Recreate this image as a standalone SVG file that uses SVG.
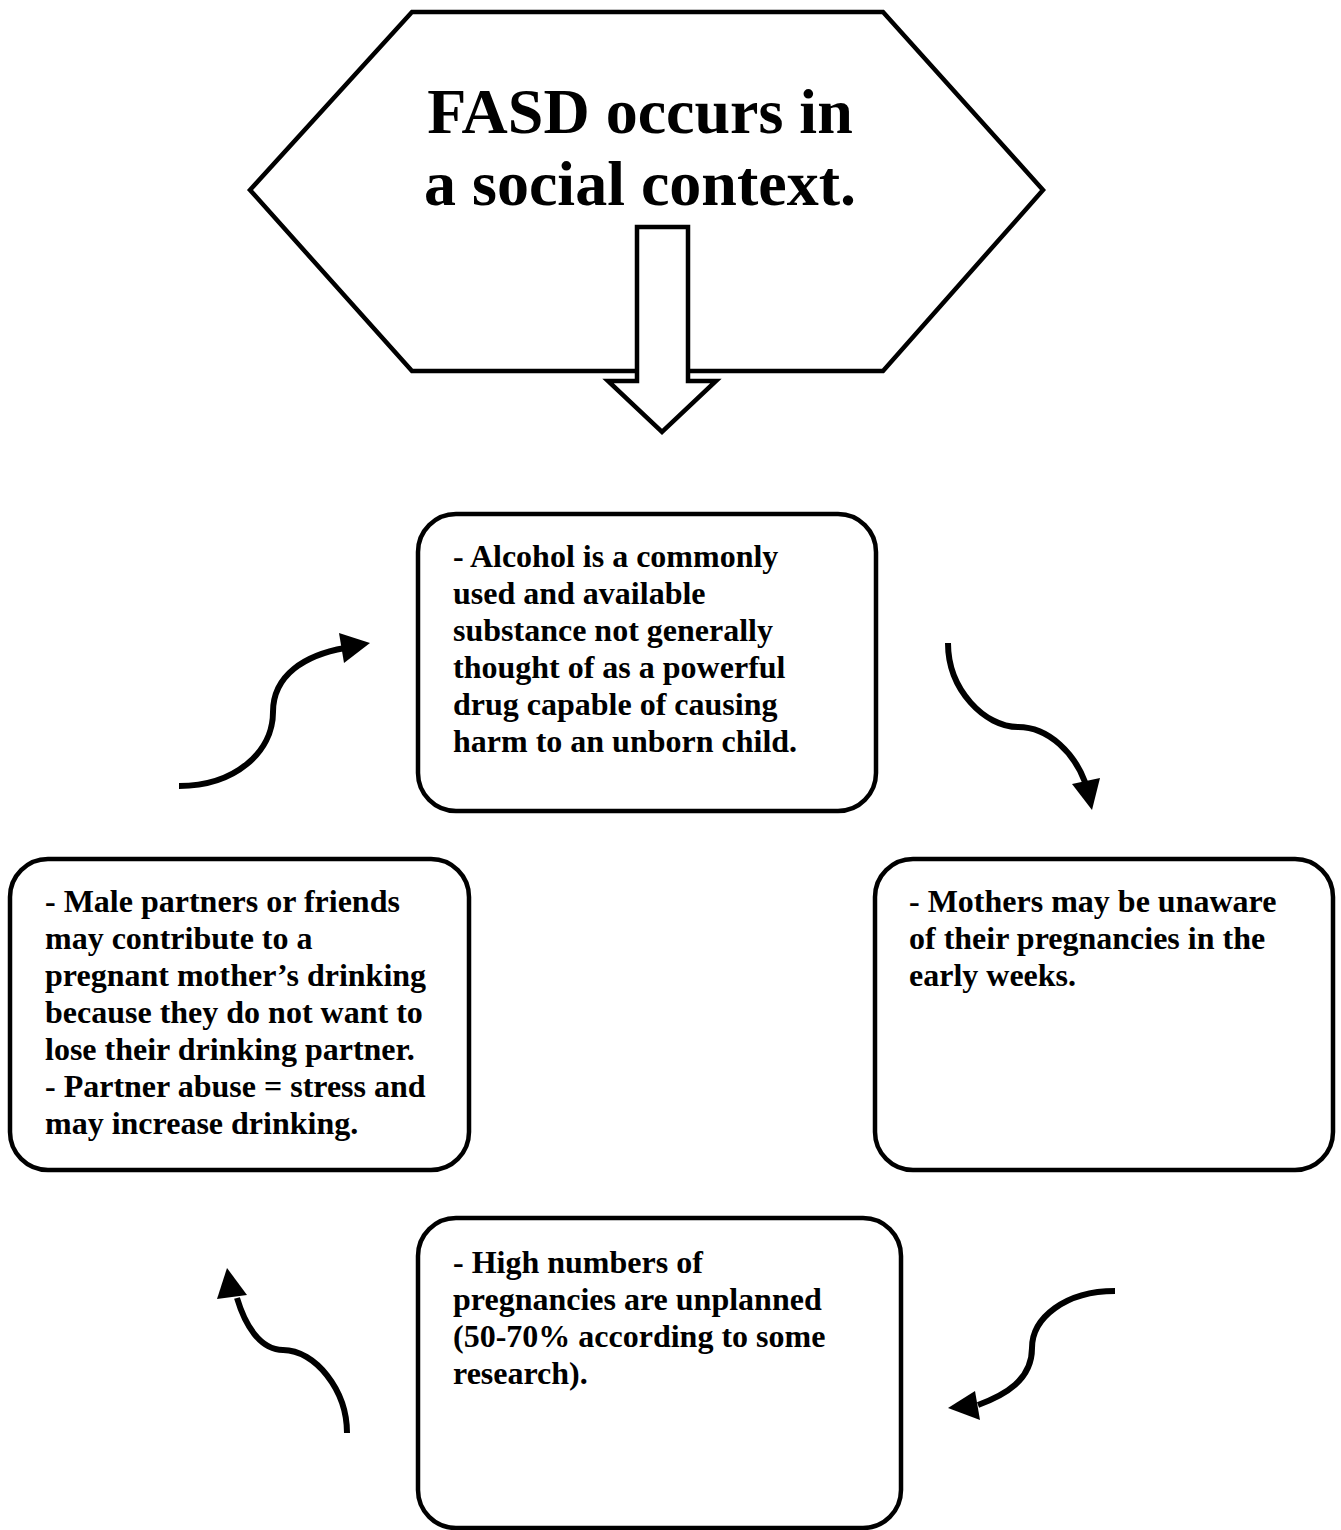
<svg xmlns="http://www.w3.org/2000/svg" width="1341" height="1530" viewBox="0 0 1341 1530">
<style>
.box{fill:#fff;stroke:#000;stroke-width:4.5}
.t{font-family:"Liberation Serif","Times New Roman",serif;font-weight:bold;font-size:32px;fill:#000}
.title{font-family:"Liberation Serif","Times New Roman",serif;font-weight:bold;font-size:64px;fill:#000}
.curve{fill:none;stroke:#000;stroke-width:6}
</style>
<rect width="1341" height="1530" fill="#fff"/>
<g id="title-node">
<polygon class="box" points="412,12 883,12 1043,190 883,371 412,371 250,190"/>
<text class="title" x="640" y="133" text-anchor="middle">FASD occurs in</text>
<text class="title" x="640" y="205" text-anchor="middle">a social context.</text>
</g>
<g id="block-arrow">
<polygon class="box" stroke-width="4" points="637,227 688,227 688,381 716,381 662,432 608,381 637,381"/>
</g>
<g id="box-alcohol">
<rect class="box" x="418" y="514" width="458" height="297" rx="38"/>
<text class="t"><tspan x="453" y="567">- Alcohol is a commonly</tspan><tspan x="453" y="604">used and available</tspan><tspan x="453" y="641">substance not generally</tspan><tspan x="453" y="678">thought of as a powerful</tspan><tspan x="453" y="715">drug capable of causing</tspan><tspan x="453" y="752">harm to an unborn child.</tspan></text>
</g>
<g id="box-mothers">
<rect class="box" x="875" y="859" width="458" height="311" rx="38"/>
<text class="t"><tspan x="909" y="912">- Mothers may be unaware</tspan><tspan x="909" y="949">of their pregnancies in the</tspan><tspan x="909" y="986">early weeks.</tspan></text>
</g>
<g id="box-unplanned">
<rect class="box" x="418" y="1218" width="483" height="310" rx="38"/>
<text class="t"><tspan x="453" y="1273">- High numbers of</tspan><tspan x="453" y="1310">pregnancies are unplanned</tspan><tspan x="453" y="1347">(50-70% according to some</tspan><tspan x="453" y="1384">research).</tspan></text>
</g>
<g id="box-partners">
<rect class="box" x="10" y="859" width="459" height="311" rx="38"/>
<text class="t"><tspan x="45" y="912">- Male partners or friends</tspan><tspan x="45" y="949">may contribute to a</tspan><tspan x="45" y="986">pregnant mother’s drinking</tspan><tspan x="45" y="1023">because they do not want to</tspan><tspan x="45" y="1060">lose their drinking partner.</tspan><tspan x="45" y="1097">- Partner abuse = stress and</tspan><tspan x="45" y="1134">may increase drinking.</tspan></text>
</g>
<g id="connectors">
<path class="curve" d="M179,786 C235,786 273,752 273,712 C273,675 305,655 345,648"/>
<polygon points="370,643 339,633 344,663"/>
<path class="curve" d="M948,643 C948,690 985,727 1018,727 C1050,727 1075,755 1085,782"/>
<polygon points="1092,810 1072,784 1100,778"/>
<path class="curve" d="M1115,1291 C1065,1291 1032,1318 1032,1348 C1032,1380 1005,1395 978,1405"/>
<polygon points="948,1408 975,1391 980,1420"/>
<path class="curve" d="M347,1433 C347,1390 315,1350 283,1350 C260,1350 245,1325 237,1298"/>
<polygon points="227,1268 217,1299 247,1295"/>
</g>
</svg>
